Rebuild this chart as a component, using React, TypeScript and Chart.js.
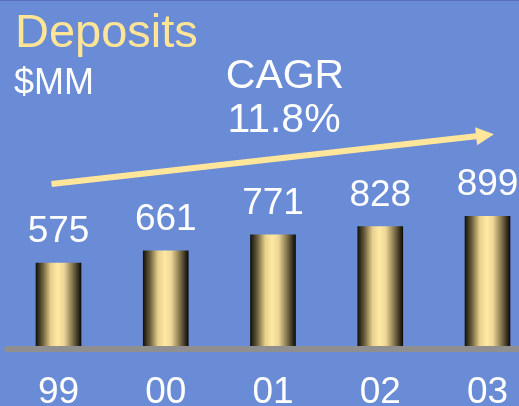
import React, { useEffect, useRef } from "react";
import { Chart, registerables } from "chart.js";

Chart.register(...registerables);

const years = ["99", "00", "01", "02", "03"];
const deposits = [575, 661, 771, 828, 899];
const titleText = "Deposits";
const unitText = "$MM";
const cagrLines = ["CAGR", "11.8%"];
const arrowValues = [1123, 1469];

const BG = "#6a8bd5";
const FONT = "'Liberation Sans', Arial, sans-serif";
const YELLOW = "#ffe69a";
const BAR_W = 45;

export default function App() {
  const ref = useRef<HTMLCanvasElement | null>(null);

  useEffect(() => {
    const canvas = ref.current;
    if (!canvas) return;

    const overlay = {
      id: "overlay",
      beforeDraw(chart: any) {
        const ctx = chart.ctx;
        ctx.save();
        ctx.fillStyle = BG;
        ctx.fillRect(0, 0, chart.width, chart.height);
        ctx.fillStyle = "#5573c0";
        ctx.fillRect(0, 0, chart.width, 1);
        ctx.restore();
      },
      afterDatasetsDraw(chart: any) {
        const ctx = chart.ctx;
        const xs = chart.scales.x;
        const ys = chart.scales.y;
        ctx.save();
        // baseline
        const y0 = ys.getPixelForValue(0);
        ctx.strokeStyle = "#8f8f8f";
        ctx.lineWidth = 6;
        ctx.lineCap = "round";
        ctx.beginPath();
        ctx.moveTo(7, y0 + 3);
        ctx.lineTo(chart.width + 10, y0 + 3);
        ctx.stroke();

        // value labels and category labels
        ctx.fillStyle = "#ffffff";
        ctx.font = `37px ${FONT}`;
        ctx.textAlign = "center";
        ctx.textBaseline = "alphabetic";
        deposits.forEach((v, i) => {
          const px = xs.getPixelForValue(i);
          const py = ys.getPixelForValue(v);
          ctx.fillText(String(v), px, py - 21);
          ctx.fillText(years[i], px, y0 + 57);
        });

        // titles
        ctx.textAlign = "left";
        ctx.fillStyle = "#ffe595";
        ctx.font = `47px ${FONT}`;
        ctx.fillText(titleText, 15, 47);
        ctx.fillStyle = "#ffffff";
        ctx.font = `36px ${FONT}`;
        ctx.fillText(unitText, 14, 94);

        ctx.textAlign = "center";
        ctx.font = `41px ${FONT}`;
        ctx.fillText(cagrLines[0], 285, 88);
        ctx.fillText(cagrLines[1], 284, 132);

        // arrow
        const x1 = xs.getPixelForValue(0) - 7;
        const yA = ys.getPixelForValue(arrowValues[0]);
        const x2 = xs.getPixelForValue(deposits.length - 1) + 6.5;
        const yB = ys.getPixelForValue(arrowValues[1]);
        const ang = Math.atan2(yB - yA, x2 - x1);
        const headLen = 18;
        const headW = 9;
        const bx = x2 - headLen * Math.cos(ang);
        const by = yB - headLen * Math.sin(ang);
        ctx.strokeStyle = YELLOW;
        ctx.fillStyle = YELLOW;
        ctx.lineWidth = 6;
        ctx.lineCap = "butt";
        ctx.beginPath();
        ctx.moveTo(x1, yA);
        ctx.lineTo(bx + 2 * Math.cos(ang), by + 2 * Math.sin(ang));
        ctx.stroke();
        ctx.beginPath();
        ctx.moveTo(x2, yB);
        ctx.lineTo(bx + headW * Math.sin(ang), by - headW * Math.cos(ang));
        ctx.lineTo(bx - headW * Math.sin(ang), by + headW * Math.cos(ang));
        ctx.closePath();
        ctx.fill();
        ctx.restore();
      },
    };

    const chart = new Chart(canvas, {
      type: "bar",
      data: {
        labels: years,
        datasets: [
          {
            data: deposits,
            barThickness: BAR_W,
            clip: false as any,
            borderWidth: 0,
            backgroundColor: (c: any) => {
              const ch = c.chart;
              const xs = ch.scales?.x;
              if (!xs || c.dataIndex === undefined) return "#ffe69a";
              const px = xs.getPixelForValue(c.dataIndex);
              if (!Number.isFinite(px)) return "#ffe69a";
              const g = ch.ctx.createLinearGradient(px - BAR_W / 2, 0, px + BAR_W / 2, 0);
              g.addColorStop(0, "#14120b");
              g.addColorStop(0.15, "#6a5e3c");
              g.addColorStop(0.33, "#e8d08c");
              g.addColorStop(0.48, "#ffe9a2");
              g.addColorStop(0.62, "#eed797");
              g.addColorStop(0.82, "#7d6f48");
              g.addColorStop(1, "#0e0c07");
              return g;
            },
          },
        ],
      },
      options: {
        responsive: false,
        animation: false,
        devicePixelRatio: 1,
        layout: { padding: { left: 58.5, right: 31.5, top: 0, bottom: 60 } },
        plugins: {
          legend: { display: false },
          tooltip: { enabled: false },
          title: { display: false },
        },
        scales: {
          x: {
            display: false,
            offset: false,
          },
          y: {
            display: false,
            min: 0,
            max: 2400,
          },
        },
      },
      plugins: [overlay],
    });

    return () => chart.destroy();
  }, []);

  return (
    <div
      style={{
        position: "fixed",
        left: 0,
        top: 0,
        width: 519,
        height: 406,
        background: BG,
        overflow: "hidden",
      }}
    >
      <canvas ref={ref} width={519} height={406} style={{ display: "block" }} />
    </div>
  );
}
